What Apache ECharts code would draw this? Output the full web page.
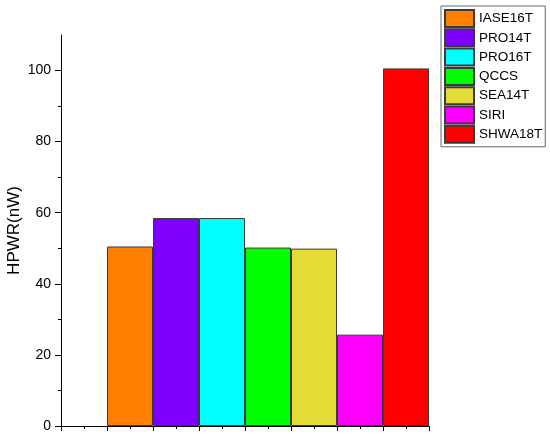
<!DOCTYPE html>
<html><head><meta charset="utf-8">
<script src="https://cdn.jsdelivr.net/npm/echarts@6/dist/echarts.min.js"></script>
<style>html,body{margin:0;padding:0;background:#fff}#c{width:550px;height:441px}</style>
</head><body><div id="c"></div>
<script>
var slots = ['', 'IASE16T', 'PRO14T', 'PRO16T', 'QCCS', 'SEA14T', 'SIRI', 'SHWA18T'];
var names = ['IASE16T', 'PRO14T', 'PRO16T', 'QCCS', 'SEA14T', 'SIRI', 'SHWA18T'];
var values = [50.5, 58.5, 58.5, 50.2, 49.9, 25.7, 100.6];
var colors = ['#FF8000', '#8000FF', '#00FFFF', '#00FF00', '#E3DC36', '#FF00FF', '#FF0000'];
var yTicks = [0, 20, 40, 60, 80, 100];
var yMinorTicks = [10, 30, 50, 70, 90];

var series = names.map(function (n, i) {
  var d = slots.map(function () { return null; });
  d[i + 1] = values[i];
  return {
    name: n, type: 'bar', stack: 'all', barWidth: '100%', data: d,
    xAxisIndex: 0, yAxisIndex: 0,
    itemStyle: { color: colors[i], borderColor: '#3a3a3a', borderWidth: 1 }
  };
});

var chart = echarts.init(document.getElementById('c'));
chart.setOption({
  animation: false,
  textStyle: { fontFamily: 'Arial, Liberation Sans, sans-serif', color: '#000' },
  grid: { left: 61, right: 121, top: 35, bottom: 15, containLabel: false, outerBoundsMode: 'none' },
  legend: {
    orient: 'vertical', left: 441, top: 6,
    padding: [3, 3, 3, 3], itemGap: 0.3, itemWidth: 29, itemHeight: 17,
    borderColor: '#666', borderWidth: 1,
    textStyle: { fontSize: 13.5, color: '#000' },
    data: names, icon: 'rect'
  },
  xAxis: [{
    type: 'category', data: slots, boundaryGap: true,
    axisLine: { lineStyle: { color: '#000', width: 1 } },
    axisTick: { show: true, length: 5, lineStyle: { color: '#000' }, alignWithLabel: false, interval: 0 },
    axisLabel: { show: false }, splitLine: { show: false }
  }, {
    type: 'value', min: 0, max: 16, interval: 1, position: 'bottom',
    axisLine: { show: false },
    axisTick: { show: true, length: 3, lineStyle: { color: '#000' } },
    axisLabel: { show: false }, splitLine: { show: false }
  }],
  yAxis: [{
    type: 'value', min: 0, max: 110, interval: 10,
    name: 'HPWR(nW)', nameLocation: 'middle', nameRotate: 90, nameGap: 38,
    nameMoveOverlap: false,
    nameTextStyle: { fontSize: 17, color: '#000' },
    axisLine: { show: true, lineStyle: { color: '#000', width: 1 } },
    axisTick: { show: true, length: 6, lineStyle: { color: '#000' }, customValues: yTicks },
    axisLabel: { fontSize: 14, color: '#000', margin: 10, customValues: yTicks },
    splitLine: { show: false }
  }, {
    type: 'value', min: 0, max: 110, interval: 10, position: 'left',
    axisLine: { show: false },
    axisTick: { show: true, length: 3, lineStyle: { color: '#000' }, customValues: yMinorTicks },
    axisLabel: { show: false }, splitLine: { show: false }
  }],
  series: series.concat([{
    type: 'line', xAxisIndex: 1, yAxisIndex: 1, data: [], silent: true
  }])
});
</script>
</body></html>
